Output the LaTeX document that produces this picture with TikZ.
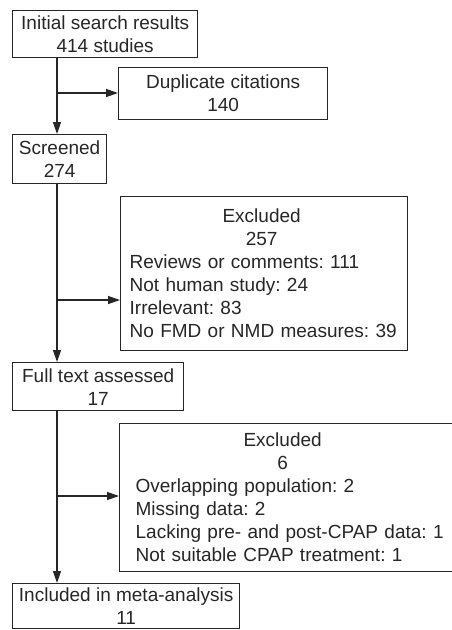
\documentclass[tikz,border=0pt]{standalone}
\usepackage{fontspec}
\setmainfont{Liberation Sans}
\usetikzlibrary{arrows.meta}
\begin{document}
\begin{tikzpicture}[x=1pt,y=-1pt,
		>={Triangle[length=12pt,width=8pt]},
		flowbox/.style={draw=black!85,line width=1.3pt,anchor=north west,inner sep=0pt,
			align=center,text=black!85,font=\fontsize{19}{23}\selectfont\frenchspacing},
		exclbox/.style={flowbox,align=left,inner ysep=0pt,minimum height=#1}
		]
		\useasboundingbox (0,0) rectangle (451,630);
		
		\node[flowbox, minimum width=185pt, minimum height=47pt](S0) at (12,10)
			{Initial search results\\414 studies};
		\node[flowbox, minimum width=209pt, minimum height=52pt](D1) at (118,67)
			{Duplicate citations\\140};
		\node[flowbox, minimum width=94pt, minimum height=49pt](S1) at (12,134)
			{Screened\\274};
		\node[exclbox=154pt, inner xsep=9pt, text width=269pt](E1) at (120,196)
			{\makebox[264pt]{Excluded}\\\makebox[264pt]{257}\\
			Reviews or comments: 111\\Not human study: 24\\Irrelevant: 83\\
			No FMD or NMD measures: 39};
		\node[flowbox, minimum width=171pt, minimum height=48pt](S2) at (12,362)
			{Full text assessed\\17};
		\node[exclbox=148pt, inner xsep=16pt, text width=330pt](E2) at (119,423)
			{\makebox[294pt]{Excluded}\\\makebox[294pt]{6}\\
			Overlapping population: 2\\Missing data: 2\\
			Lacking pre- and post-CPAP data: 1\\Not suitable CPAP treatment: 1};
		\node[flowbox, minimum width=227pt, inner ysep=4pt](S3) at (12,583)
			{Included in meta-analysis\\11};
		
		% main line and branches
		\coordinate (T0) at (57,0);
		\coordinate (B1) at (57,93);
		\coordinate (B2) at (57,300);
		\coordinate (B3) at (57,496);
		\begin{scope}[draw=black!85, line width=1.3pt]
		\draw[->] (S0.south -| T0) -- (S1.north -| T0);
		\draw[->] (S1.south -| T0) -- (S2.north -| T0);
		\draw[->] (S2.south -| T0) -- (S3.north -| T0);
		\draw[->] (B1) -- (B1 -| D1.west);
		\draw[->] (B2) -- (B2 -| E1.west);
		\draw[->] (B3) -- (B3 -| E2.west);
		\end{scope}
	\end{tikzpicture}
\end{document}
